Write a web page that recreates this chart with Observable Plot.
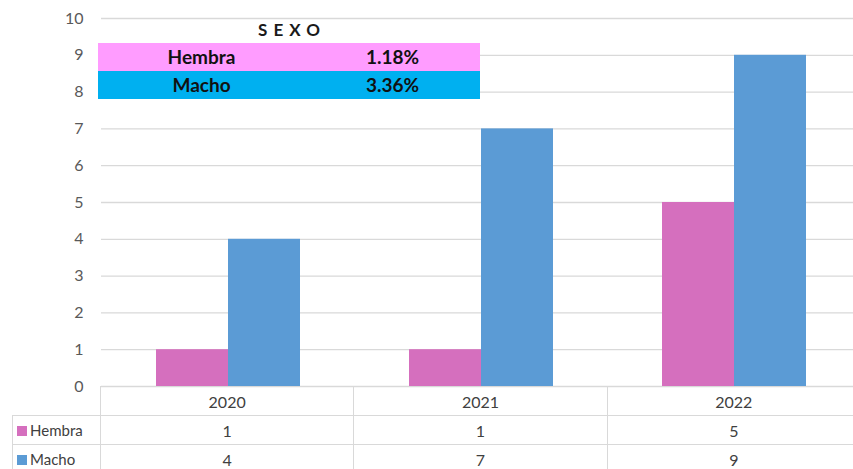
<!DOCTYPE html>
<html><head><meta charset="utf-8">
<script src="https://cdn.jsdelivr.net/npm/d3@7"></script>
<script src="https://cdn.jsdelivr.net/npm/@observablehq/plot@0.6"></script>
<style>
html,body{margin:0;padding:0;background:#fff;overflow:hidden;}
#wrap{position:relative;width:853px;height:469px;overflow:hidden;font-family:Lato,"Open Sans",sans-serif;}
#chart{position:absolute;left:0;top:0;}
#dt{position:absolute;left:12px;top:386px;width:848px;border-collapse:collapse;table-layout:fixed;color:#404040;font-size:16px;}
#dt td{border:1px solid #d9d9d9;height:28px;padding:0;text-align:center;white-space:nowrap;}
#dt td.leg{text-align:left;padding-left:4px;font-size:15px;}
#dt td.blank{border:none;}
.sw{display:inline-block;width:10px;height:10px;margin-right:3px;vertical-align:0px;}
#ov{position:absolute;left:98px;top:17px;width:382px;}
#ov .title{height:26px;line-height:26px;text-align:center;font-weight:bold;font-size:17px;letter-spacing:6px;color:#1a1a1a;padding-left:6px;}
#ov .row{height:28px;line-height:28px;display:flex;font-weight:bold;font-size:19px;color:#111;}
#ov .row div:first-child{width:207px;text-align:center;}
#ov .row div:last-child{width:175px;text-align:center;}
</style></head>
<body><div id="wrap"><div id="chart"></div></div>
<script>
const years = ["2020", "2021", "2022"];
const series = ["Hembra", "Macho"];
const hembra = [1, 1, 5];
const macho = [4, 7, 9];
const colors = ["#d56fbe", "#5b9bd5"];
const yTicks = [0,1,2,3,4,5,6,7,8,9,10];
const sexoTitle = "SEXO";
const sexoLabels = ["Hembra", "Macho"];
const sexoPct = ["1.18%", "3.36%"];
const sexoColors = ["#ff9cff", "#00b0f0"];

const data = [];
years.forEach((y, i) => {
  data.push({year: y, sex: series[0], value: hembra[i]});
  data.push({year: y, sex: series[1], value: macho[i]});
});

const plot = Plot.plot({
  width: 853,
  height: 400,
  marginLeft: 100,
  marginRight: -7,
  marginTop: 18,
  marginBottom: 14,
  style: {fontFamily: "Lato, sans-serif", fontSize: "16px", color: "#595959", background: "transparent", overflow: "visible"},
  fx: {domain: years, padding: 0, axis: null, label: null},
  x: {domain: series, paddingInner: 0, paddingOuter: 0.735, axis: null, label: null},
  y: {domain: [0, 10], ticks: yTicks, tickSize: 0, tickPadding: 18, label: null, tickFormat: d => String(d)},
  color: {domain: series, range: colors},
  marks: [
    Plot.gridY(yTicks, {stroke: "#d9d9d9", strokeOpacity: 1, strokeWidth: 1.3}),
    Plot.barY(data, {fx: "year", x: "sex", y: "value", fill: "sex", inset: 0}),
  ]
});
document.getElementById("chart").appendChild(plot);

// data table
const wrap = document.getElementById("wrap");
const t = document.createElement("table");
t.id = "dt";
const cg = document.createElement("colgroup");
[88, 253.33, 253.33, 253.33].forEach(w => { const c = document.createElement("col"); c.style.width = w + "px"; cg.appendChild(c); });
t.appendChild(cg);
const hr = document.createElement("tr");
const b = document.createElement("td"); b.className = "blank"; hr.appendChild(b);
years.forEach(y => { const td = document.createElement("td"); td.textContent = y; hr.appendChild(td); });
t.appendChild(hr);
[hembra, macho].forEach((vals, si) => {
  const tr = document.createElement("tr");
  const l = document.createElement("td"); l.className = "leg";
  l.innerHTML = `<span class="sw" style="background:${colors[si]}"></span>${series[si]}`;
  tr.appendChild(l);
  vals.forEach(v => { const td = document.createElement("td"); td.textContent = v; tr.appendChild(td); });
  t.appendChild(tr);
});
wrap.appendChild(t);

// overlay table
const ov = document.createElement("div"); ov.id = "ov";
const ti = document.createElement("div"); ti.className = "title"; ti.textContent = sexoTitle; ov.appendChild(ti);
sexoLabels.forEach((s, i) => {
  const r = document.createElement("div"); r.className = "row"; r.style.background = sexoColors[i];
  r.innerHTML = `<div>${s}</div><div>${sexoPct[i]}</div>`;
  ov.appendChild(r);
});
wrap.appendChild(ov);
</script></body></html>
